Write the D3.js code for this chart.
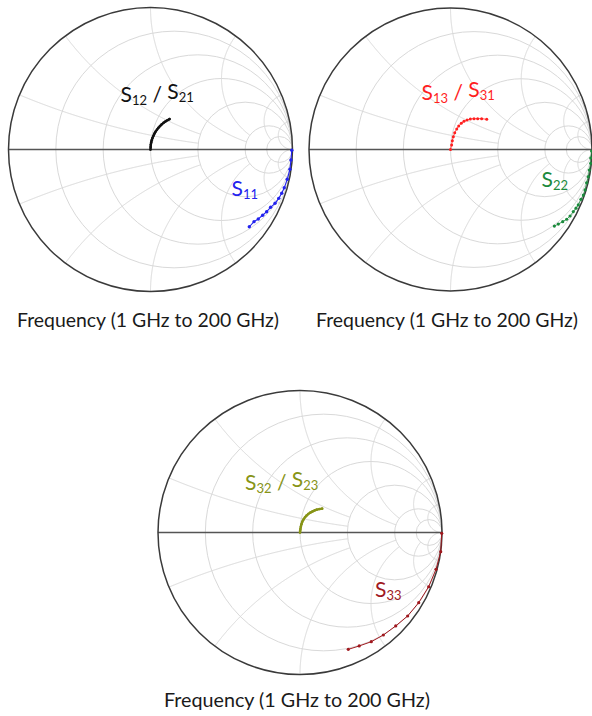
<!DOCTYPE html>
<html>
<head>
<meta charset="utf-8">
<script src="https://cdn.jsdelivr.net/npm/d3@7"></script>
<style>
  html, body { margin: 0; padding: 0; background: #fff; }
  svg { display: block; }
</style>
</head>
<body>
<svg id="chart" width="592" height="716"></svg>
<script>
// Smith chart grid values (normalised impedance)
const resistanceValues = [0.2, 0.5, 1, 2, 5, 10];
const reactanceValues  = [0.2, 0.5, 1, 2, 5, 10];
// each reactance arc is drawn out to this resistance circle
const reactanceLimits  = [2, 2, 5, 5, 10, Infinity];

// Reflection coefficients [Re, Im], 1 GHz to 200 GHz
const s12s21 = [[0.000,0.000],[0.001,0.017],[0.002,0.033],[0.005,0.050],[0.009,0.066],
  [0.014,0.081],[0.021,0.097],[0.028,0.112],[0.036,0.126],[0.046,0.140],[0.056,0.153],
  [0.067,0.165],[0.079,0.177],[0.092,0.188],[0.105,0.197],[0.119,0.206],[0.134,0.214]];
const s11 = [[0.995,-0.005],[0.989,-0.074],[0.982,-0.139],[0.963,-0.210],[0.942,-0.269],
  [0.924,-0.308],[0.903,-0.344],[0.877,-0.379],[0.846,-0.407],[0.818,-0.438],
  [0.790,-0.463],[0.759,-0.489],[0.729,-0.508],[0.696,-0.544]];
const s13s31 = [[0.000,0.000],[0.008,0.032],[0.013,0.062],[0.020,0.090],[0.030,0.119],
  [0.044,0.145],[0.058,0.166],[0.076,0.185],[0.095,0.199],[0.117,0.208],[0.140,0.216],
  [0.166,0.218],[0.192,0.218],[0.220,0.218],[0.256,0.213]];
const s22 = [[0.997,-0.011],[0.991,-0.060],[0.991,-0.098],[0.981,-0.145],[0.974,-0.192],
  [0.962,-0.235],[0.951,-0.286],[0.939,-0.322],[0.922,-0.352],[0.903,-0.392],
  [0.887,-0.415],[0.868,-0.439],[0.845,-0.470],[0.821,-0.493],[0.793,-0.510],
  [0.762,-0.527],[0.734,-0.541]];
const s32s23 = [[0.000,0.000],[0.001,0.012],[0.003,0.025],[0.006,0.041],[0.010,0.058],
  [0.016,0.076],[0.025,0.092],[0.035,0.107],[0.046,0.119],[0.058,0.130],[0.073,0.140],
  [0.089,0.149],[0.104,0.156],[0.118,0.161],[0.137,0.165],[0.156,0.168]];
const s33 = [[0.998,-0.006],[0.991,-0.135],[0.958,-0.259],[0.906,-0.382],[0.836,-0.494],
  [0.758,-0.588],[0.674,-0.658],[0.587,-0.722],[0.502,-0.769],[0.417,-0.799],
  [0.340,-0.823]];

const captionText = "Frequency (1 GHz to 200 GHz)";

const panels = [
  { cx: 150.5, cy: 149.5, R: 142, caption: [148, 327, 262],
    series: [
      { data: s12s21, color: "#111111", width: 2.4, dot: 1.3,
        label: [["S",""],["12","sub"],[" / ",""],["S",""],["21","sub"]], at: [120.5, 102] },
      { data: s11, color: "#2222ee", width: 1.1, dot: 1.7,
        label: [["S",""],["11","sub"]], at: [231.5, 196] }
    ] },
  { cx: 450.5, cy: 149.5, R: 141.5, caption: [447, 327, 262],
    series: [
      { data: s13s31, color: "#ff1f1f", width: 0.8, dot: 1.5,
        label: [["S",""],["13","sub"],[" / ",""],["S",""],["31","sub"]], at: [421.5, 99.5] },
      { data: s22, color: "#1b8a3c", width: 0.8, dot: 1.6,
        label: [["S",""],["22","sub"]], at: [541.5, 187] }
    ] },
  { cx: 300, cy: 532.5, R: 142, caption: [297, 707, 266],
    series: [
      { data: s32s23, color: "#879417", width: 2.4, dot: 1.3,
        label: [["S",""],["32","sub"],[" / ",""],["S",""],["23","sub"]], at: [245, 490] },
      { data: s33, color: "#a0181e", width: 1.0, dot: 1.6,
        label: [["S",""],["33","sub"]], at: [375, 597] }
    ] }
];

const svg = d3.select("#chart");
const FONT = "Lato, 'Open Sans', 'DejaVu Sans', sans-serif";

// sample a constant-reactance arc from r = 0 out to its limiting resistance
function reactanceArc(x, rMax) {
  const sMax = isFinite(rMax) ? rMax / (1 + rMax) : 0.99999;
  return d3.range(0, 241).map(i => {
    const s = sMax * i / 240;
    const r = s / (1 - s);
    const d = (r + 1) * (r + 1) + x * x;
    return [(r * r + x * x - 1) / d, 2 * x / d];
  });
}

panels.forEach(p => {
  const xs = d3.scaleLinear().domain([-1, 1]).range([p.cx - p.R, p.cx + p.R]);
  const ys = d3.scaleLinear().domain([-1, 1]).range([p.cy + p.R, p.cy - p.R]);
  const k = p.R; // pixels per unit
  const g = svg.append("g");
  const line = d3.line().x(d => xs(d[0])).y(d => ys(d[1]));

  const grid = g.append("g").attr("fill", "none").attr("stroke", "#d9d9d9").attr("stroke-width", 1);
  // constant-resistance circles
  grid.selectAll("circle.r").data(resistanceValues).join("circle")
    .attr("class", "r")
    .attr("cx", r => xs(r / (r + 1)))
    .attr("cy", ys(0))
    .attr("r", r => k / (r + 1));
  // constant-reactance arcs, upper and lower halves
  reactanceValues.forEach((x, i) => {
    [x, -x].forEach(v => {
      grid.append("path").attr("d", line(reactanceArc(v, reactanceLimits[i])));
    });
  });

  // real axis and outer boundary
  g.append("line")
    .attr("x1", xs(-1)).attr("x2", xs(1)).attr("y1", ys(0)).attr("y2", ys(0))
    .attr("stroke", "#555").attr("stroke-width", 1.5);
  g.append("circle")
    .attr("cx", xs(0)).attr("cy", ys(0)).attr("r", k)
    .attr("fill", "none").attr("stroke", "#3a3a3a").attr("stroke-width", 1.5);

  // measured traces
  p.series.forEach(s => {
    g.append("path").attr("d", line(s.data))
      .attr("fill", "none").attr("stroke", s.color)
      .attr("stroke-width", s.width).attr("stroke-linecap", "round").attr("stroke-linejoin", "round");
    g.append("g").selectAll("circle").data(s.data).join("circle")
      .attr("cx", d => xs(d[0])).attr("cy", d => ys(d[1])).attr("r", s.dot)
      .attr("fill", s.color);

    const t = g.append("text")
      .attr("x", s.at[0]).attr("y", s.at[1])
      .attr("fill", s.color).attr("font-family", FONT).attr("font-size", 21);
    s.label.forEach(([txt, kind]) => {
      const ts = t.append("tspan").text(txt);
      if (kind === "sub") ts.attr("font-size", 13).attr("dy", 3);
      else if (t.node().childNodes.length > 1) ts.attr("dy", -3);
    });
  });

  svg.append("text")
    .attr("x", p.caption[0]).attr("y", p.caption[1])
    .attr("text-anchor", "middle")
    .attr("font-family", FONT).attr("font-size", 18.5).attr("fill", "#1a1a1a")
    .attr("textLength", p.caption[2]).attr("lengthAdjust", "spacingAndGlyphs")
    .text(captionText);
});
</script>
</body>
</html>
